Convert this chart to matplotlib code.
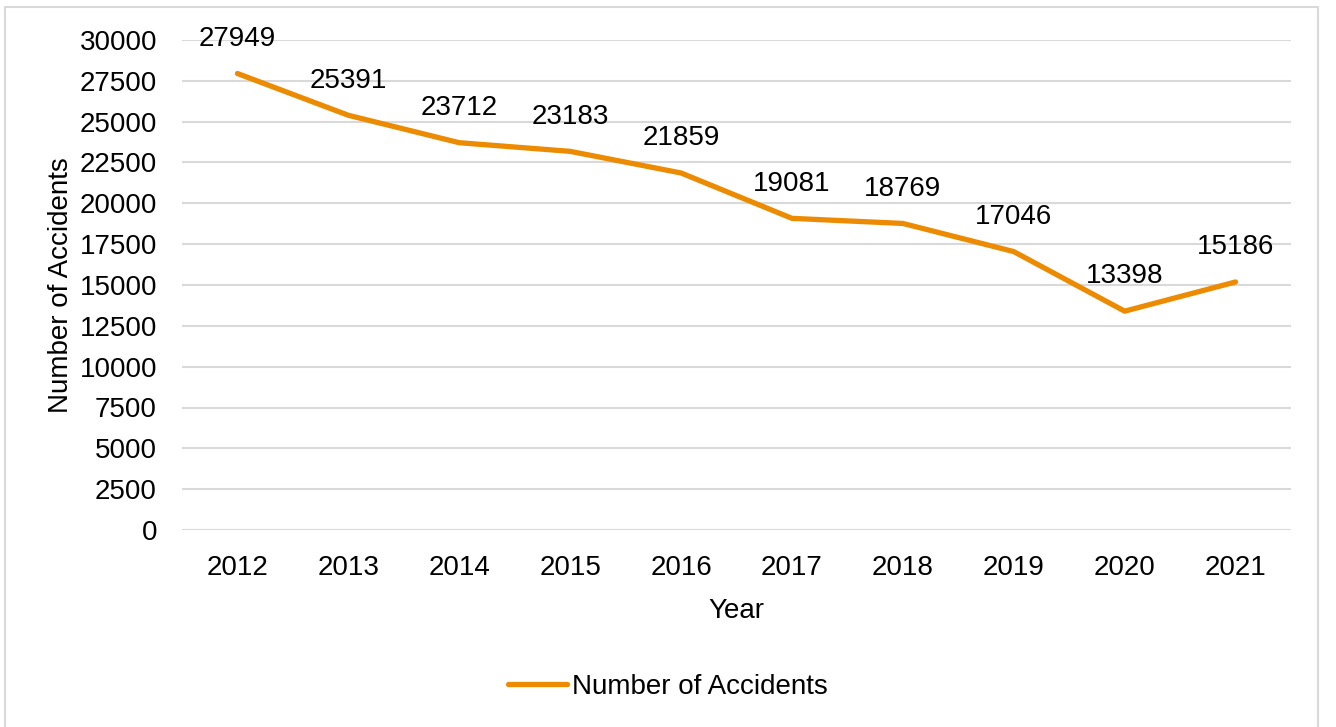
import matplotlib.pyplot as plt
import numpy as np
from matplotlib.lines import Line2D

years = ["2012", "2013", "2014", "2015", "2016", "2017", "2018", "2019", "2020", "2021"]
accidents = [27949, 25391, 23712, 23183, 21859, 19081, 18769, 17046, 13398, 15186]
yticks = np.arange(0, 30001, 2500)

plt.rcParams['font.family'] = ['Liberation Sans', 'DejaVu Sans']

W, H = 1336, 727
fig = plt.figure(figsize=(W / 100, H / 100), dpi=100)

# plot area in pixels
left, right, top, bottom = 182, 1291, 40, 530
ax = fig.add_axes([left / W, 1 - bottom / H, (right - left) / W, (bottom - top) / H])

x = np.arange(len(years))
color = '#ED8B00'
fs = 20
ax.plot(x, accidents, color=color, lw=3.8, solid_capstyle='round', zorder=3)

for xi, v in zip(x, accidents):
    ax.annotate(str(v), (xi, v), xytext=(0, 25), textcoords='offset points',
                ha='center', va='center', fontsize=fs, color='#000000')

ax.set_xlim(-0.5, len(years) - 0.5)
ax.set_ylim(0, 30000)
ax.set_yticks(yticks)
ax.set_yticklabels([str(t) for t in yticks])
ax.set_xticks(x)
ax.set_xticklabels(years)
ax.tick_params(axis='both', length=0, labelsize=fs, colors='#000000')
ax.tick_params(axis='x', pad=18)
ax.tick_params(axis='y', pad=18)
ax.grid(axis='y', color='#d9d9d9', lw=1.5)
ax.set_axisbelow(True)
for s in ax.spines.values():
    s.set_visible(False)

ax.set_xlabel('Year', fontsize=fs, labelpad=12)
ax.set_ylabel('Number of Accidents', fontsize=fs, labelpad=4)

handle = Line2D([], [], color=color, lw=3.8, solid_capstyle='round')
fig.legend([handle], ['Number of Accidents'], loc='center',
           bbox_to_anchor=(668 / W, 1 - 687 / H), frameon=False, fontsize=fs,
           handlelength=2.1, handletextpad=0.2)

# outer chart border
fig.add_artist(plt.Rectangle((5 / W, -0.05), (1318 - 5) / W, 1.05 - 7 / H,
                             transform=fig.transFigure, fill=False,
                             edgecolor='#d9d9d9', lw=1.5))

fig.savefig('out.png', dpi=100)
